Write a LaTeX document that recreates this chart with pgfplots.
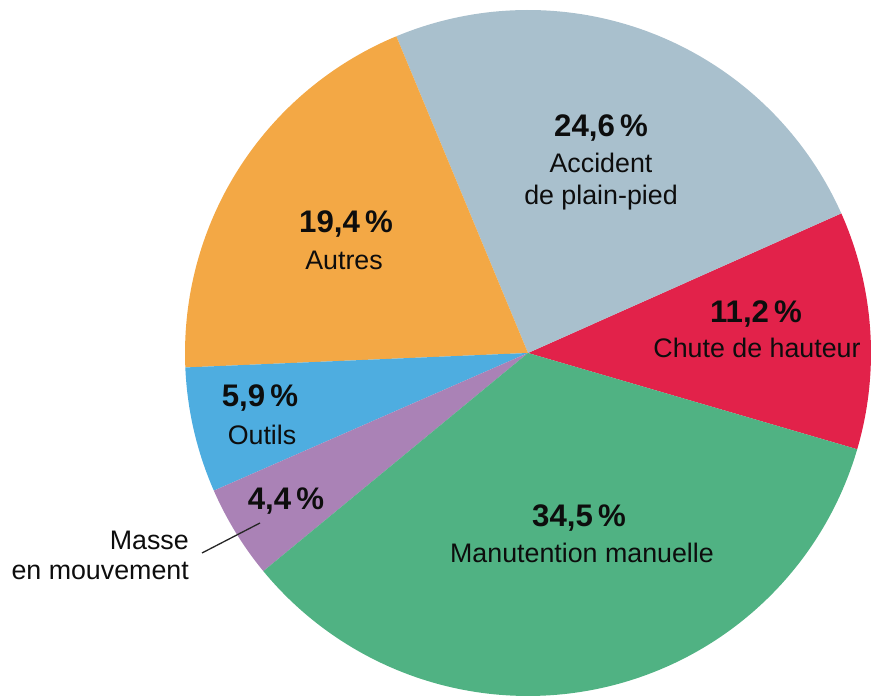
\documentclass[border=0pt]{standalone}
\usepackage{fontspec}
\setmainfont{Liberation Sans}
\usepackage{pgfplots}
\pgfplotsset{compat=1.18}
\definecolor{cChute}{HTML}{E2224A}
\definecolor{cAcc}{HTML}{A9C0CD}
\definecolor{cAutres}{HTML}{F3A845}
\definecolor{cOutils}{HTML}{4EADE0}
\definecolor{cMasse}{HTML}{AA82B6}
\definecolor{cManut}{HTML}{50B283}
% shares (%), counter-clockwise from -16.3 deg
\def\s{-16.3}
\def\vChute{11.2}
\def\vAcc{24.6}
\def\vAutres{19.4}
\def\vOutils{5.9}
\def\vMasse{4.4}
\def\vManut{34.5}
\def\cx{528}
\def\cy{345}
\def\R{343}
\begin{document}
\begin{tikzpicture}
\begin{axis}[name=ax,
  width=873pt, height=698pt, scale only axis,
  xmin=0, xmax=873, ymin=0, ymax=698,
  hide axis, clip=true]
\addplot[fill=cChute, draw=none, domain={\s}:{\s+3.6*\vChute}, samples=40]
  ({\cx+\R*cos(x)},{\cy+\R*sin(x)}) -- (axis cs:\cx,\cy) -- cycle;
\addplot[fill=cAcc, draw=none, domain={\s+3.6*\vChute}:{\s+3.6*(\vChute+\vAcc)}, samples=80]
  ({\cx+\R*cos(x)},{\cy+\R*sin(x)}) -- (axis cs:\cx,\cy) -- cycle;
\addplot[fill=cAutres, draw=none, domain={\s+3.6*(\vChute+\vAcc)}:{\s+3.6*(\vChute+\vAcc+\vAutres)}, samples=70]
  ({\cx+\R*cos(x)},{\cy+\R*sin(x)}) -- (axis cs:\cx,\cy) -- cycle;
\addplot[fill=cOutils, draw=none, domain={\s+3.6*(\vChute+\vAcc+\vAutres)}:{\s+3.6*(\vChute+\vAcc+\vAutres+\vOutils)}, samples=30]
  ({\cx+\R*cos(x)},{\cy+\R*sin(x)}) -- (axis cs:\cx,\cy) -- cycle;
\addplot[fill=cMasse, draw=none, domain={\s+3.6*(\vChute+\vAcc+\vAutres+\vOutils)}:{\s+3.6*(\vChute+\vAcc+\vAutres+\vOutils+\vMasse)}, samples=30]
  ({\cx+\R*cos(x)},{\cy+\R*sin(x)}) -- (axis cs:\cx,\cy) -- cycle;
\addplot[fill=cManut, draw=none, domain={\s+3.6*(\vChute+\vAcc+\vAutres+\vOutils+\vMasse)}:{\s+360}, samples=120]
  ({\cx+\R*cos(x)},{\cy+\R*sin(x)}) -- (axis cs:\cx,\cy) -- cycle;
% labels
\tikzset{lab/.style={anchor=base, inner sep=0pt, text=black!95, font=\fontsize{26.8}{31}\selectfont},
         val/.style={anchor=base, inner sep=0pt, text=black!95, font=\fontsize{31.2}{35}\selectfont\bfseries}}
\node[val] at (axis cs:601,561) {24,6\,\%};
\node[lab] at (axis cs:601,525) {Accident};
\node[lab] at (axis cs:601,493) {de plain-pied};
\node[val] at (axis cs:346,465) {19,4\,\%};
\node[lab] at (axis cs:344,428) {Autres};
\node[val] at (axis cs:756,375) {11,2\,\%};
\node[lab] at (axis cs:757,340) {Chute de hauteur};
\node[val] at (axis cs:260,291) {5,9\,\%};
\node[lab] at (axis cs:262,253) {Outils};
\node[val] at (axis cs:286,188) {4,4\,\%};
\node[val] at (axis cs:579,171) {34,5\,\%};
\node[lab] at (axis cs:582,135) {Manutention manuelle};
\node[lab, anchor=base east] at (axis cs:189,148) {Masse};
\node[lab, anchor=base east] at (axis cs:189,118) {en mouvement};
\addplot[black!85, line width=1.3pt] coordinates {(202,145) (260,175)};
\end{axis}
\pgfresetboundingbox
\path (ax.south west) rectangle (ax.north east);
\end{tikzpicture}
\end{document}
